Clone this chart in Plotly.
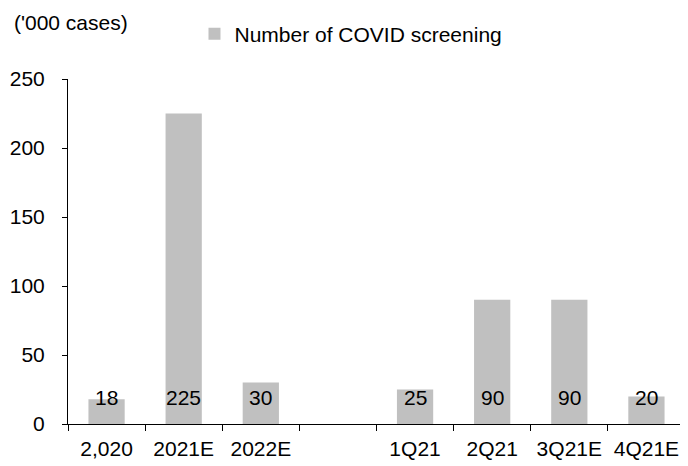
import plotly.graph_objects as go

categories = ["2,020", "2021E", "2022E", " ", "1Q21", "2Q21", "3Q21E", "4Q21E"]
values = [18, 225, 30, None, 25, 90, 90, 20]
value_labels = ["18", "225", "30", "", "25", "90", "90", "20"]
series_name = "Number of COVID screening"
unit_label = "('000 cases)"
y_ticks = [0, 50, 100, 150, 200, 250]

FONT = "Liberation Sans, Arial, sans-serif"
BAR_COLOR = "#c0c0c0"

fig = go.Figure()
fig.add_trace(go.Bar(
    x=categories, y=values, name=series_name,
    marker=dict(color=BAR_COLOR, line=dict(width=0)),
    showlegend=True,
))

for c, lab in zip(categories, value_labels):
    if lab:
        fig.add_annotation(x=c, y=0, xref="x", yref="y", text=lab,
                           showarrow=False, yanchor="bottom", yshift=13,
                           font=dict(size=21, color="black", family=FONT))

fig.add_annotation(x=-0.0908, y=1.165, xref="paper", yref="paper", text=unit_label,
                   showarrow=False, xanchor="left", yanchor="middle",
                   font=dict(size=21, color="black", family=FONT))

# page body has an 8px default margin, so the figure is sized to fit the window
fig.update_layout(
    width=680, height=458,
    margin=dict(l=60, r=3, t=71, b=42, autoexpand=False),
    paper_bgcolor="white", plot_bgcolor="white",
    font=dict(family=FONT, size=21, color="black"),
    bargap=0.53,
    legend=dict(orientation="h", x=0.205, xanchor="left", y=1.13, yanchor="middle",
                font=dict(size=21, family=FONT), bgcolor="rgba(0,0,0,0)",
                itemwidth=30),
    xaxis=dict(type="category", categoryorder="array", categoryarray=categories,
               showline=True, linecolor="black", linewidth=1, automargin=False,
               ticks="outside", ticklen=6, tickcolor="black", tickson="boundaries",
               ticklabelstandoff=6,
               showgrid=False, zeroline=False, tickfont=dict(size=21)),
    yaxis=dict(range=[0, 250], tickvals=y_ticks, showline=True, linecolor="black",
               linewidth=1, ticks="outside", ticklen=5, tickcolor="black", automargin=False,
               ticklabelstandoff=13,
               showgrid=False, zeroline=False, tickfont=dict(size=21)),
)

fig.write_html("out.html")
